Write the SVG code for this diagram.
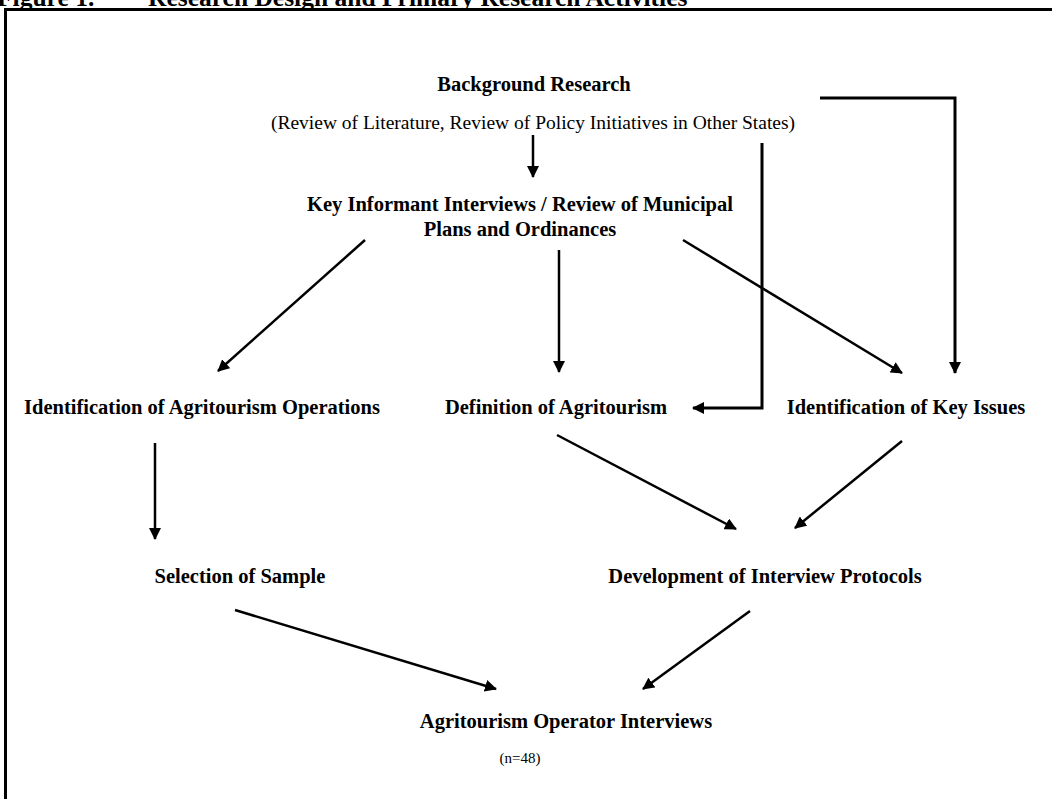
<svg xmlns="http://www.w3.org/2000/svg" width="1052" height="799" viewBox="0 0 1052 799">
<style>
.b{font-family:"Liberation Serif","Times New Roman",serif;font-weight:bold;font-size:20.5px;fill:#000}
.r{font-family:"Liberation Serif","Times New Roman",serif;font-size:19.5px;fill:#000}
.s{font-family:"Liberation Serif","Times New Roman",serif;font-size:15px;fill:#000}
.t{font-family:"Liberation Serif","Times New Roman",serif;font-weight:bold;font-size:25.5px;fill:#000}
.c{fill:none;stroke:#000;stroke-width:2.5}
.e{fill:none;stroke:#000;stroke-width:3}
</style>
<defs>
<marker id="ah" markerUnits="userSpaceOnUse" markerWidth="12" markerHeight="12" refX="11" refY="6" orient="auto" viewBox="0 0 12 12">
<path d="M0,0 L12,6 L0,12 z" fill="#000"/>
</marker>
</defs>
<rect width="1052" height="799" fill="#fff"/>
<g id="title">
<text class="t" x="-3" y="6">Figure 1.</text>
<text class="t" x="148" y="6">Research Design and Primary Research Activities</text>
</g>
<path id="frame" d="M5.5,799 V9.5 H1052" fill="none" stroke="#000" stroke-width="3"/>
<g id="n-background">
<text class="b" x="534" y="91" text-anchor="middle">Background Research</text>
<text class="r" x="533" y="129" text-anchor="middle">(Review of Literature, Review of Policy Initiatives in Other States)</text>
</g>
<g id="n-keyinformant">
<text class="b" x="520" y="211" text-anchor="middle">Key Informant Interviews / Review of Municipal</text>
<text class="b" x="520" y="236" text-anchor="middle">Plans and Ordinances</text>
</g>
<g id="n-ops"><text class="b" x="202" y="414" text-anchor="middle">Identification of Agritourism Operations</text></g>
<g id="n-def"><text class="b" x="556" y="414" text-anchor="middle">Definition of Agritourism</text></g>
<g id="n-issues"><text class="b" x="906" y="414" text-anchor="middle">Identification of Key Issues</text></g>
<g id="n-sample"><text class="b" x="240" y="583" text-anchor="middle">Selection of Sample</text></g>
<g id="n-protocols"><text class="b" x="765" y="583" text-anchor="middle">Development of Interview Protocols</text></g>
<g id="n-interviews">
<text class="b" x="566" y="728" text-anchor="middle">Agritourism Operator Interviews</text>
<text class="s" x="520" y="763" text-anchor="middle">(n=48)</text>
</g>
<g id="connectors">
<line class="c" x1="533" y1="135" x2="533" y2="177" marker-end="url(#ah)"/>
<path class="e" d="M820,98 H955 V373" marker-end="url(#ah)"/>
<path class="e" d="M762,143 V408 H693" marker-end="url(#ah)"/>
<line class="c" x1="365" y1="240" x2="218" y2="371" marker-end="url(#ah)"/>
<line class="c" x1="559" y1="250" x2="559" y2="372" marker-end="url(#ah)"/>
<line class="c" x1="683" y1="240" x2="902" y2="373" marker-end="url(#ah)"/>
<line class="c" x1="155" y1="443" x2="155" y2="539" marker-end="url(#ah)"/>
<line class="c" x1="557" y1="435" x2="736" y2="529" marker-end="url(#ah)"/>
<line class="c" x1="902" y1="441" x2="795" y2="528" marker-end="url(#ah)"/>
<line class="c" x1="235" y1="610" x2="496" y2="689" marker-end="url(#ah)"/>
<line class="c" x1="750" y1="611" x2="643" y2="689" marker-end="url(#ah)"/>
</g>
</svg>
